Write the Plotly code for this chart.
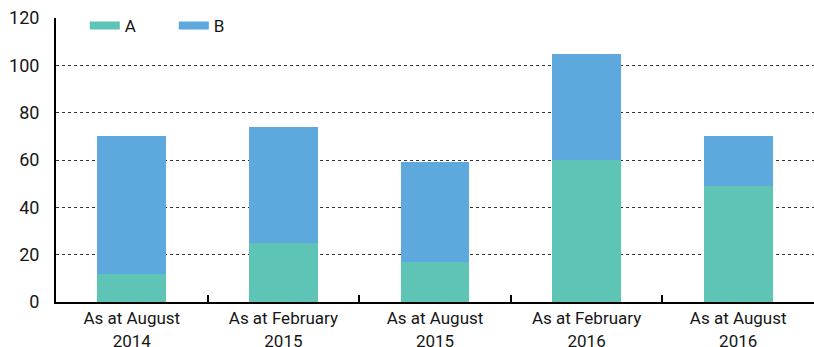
import plotly.graph_objects as go

categories = [
    "As at August<br>2014",
    "As at February<br>2015",
    "As at August<br>2015",
    "As at February<br>2016",
    "As at August<br>2016",
]
series_a = [12, 25, 17, 60, 49]
series_b = [58, 49, 42, 45, 21]
y_ticks = [0, 20, 40, 60, 80, 100, 120]

color_a = "#5ec4b6"
color_b = "#5da8dd"
font_family = "Roboto, Arial, sans-serif"
text_color = "#161616"

fig = go.Figure()
fig.add_trace(go.Bar(x=categories, y=series_a, name="A", marker_color=color_a,
                     marker_line_width=0, showlegend=False))
fig.add_trace(go.Bar(x=categories, y=series_b, name="B", marker_color=color_b,
                     marker_line_width=0, showlegend=False))

# Legend entries drawn as wide, flat swatches
fig.add_trace(go.Scatter(x=[None], y=[None], mode="lines", name="A",
                         line=dict(color=color_a, width=8)))
fig.add_trace(go.Scatter(x=[None], y=[None], mode="lines", name="B",
                         line=dict(color=color_b, width=8)))

fig.update_layout(
    barmode="stack",
    bargap=0.545,
    width=814,
    height=347,
    margin=dict(l=56, r=0, t=18, b=45),
    plot_bgcolor="white",
    paper_bgcolor="white",
    font=dict(family=font_family, size=18, color=text_color),
    legend=dict(
        orientation="h",
        traceorder="normal",
        x=0.038, y=0.972,
        xanchor="left", yanchor="middle",
        bgcolor="rgba(255,255,255,0)",
        font=dict(size=17),
        entrywidth=44,
        entrywidthmode="pixels",
        itemclick=False,
    ),
)

fig.update_xaxes(
    type="category",
    showline=True, linecolor="black", linewidth=2,
    ticks="inside", tickson="boundaries", ticklen=7, tickwidth=2, tickcolor="black",
    showgrid=False,
    tickfont=dict(size=17),
    ticklabelstandoff=0,
    automargin=False,
)
fig.update_yaxes(
    range=[0, 120],
    tickvals=y_ticks,
    showline=True, linecolor="black", linewidth=2,
    ticks="",
    showgrid=True, gridcolor="#333333", gridwidth=1, griddash="dot",
    zeroline=False,
    tickfont=dict(size=18),
    ticklabelstandoff=11,
    automargin=False,
)

fig.write_html("out.html")
